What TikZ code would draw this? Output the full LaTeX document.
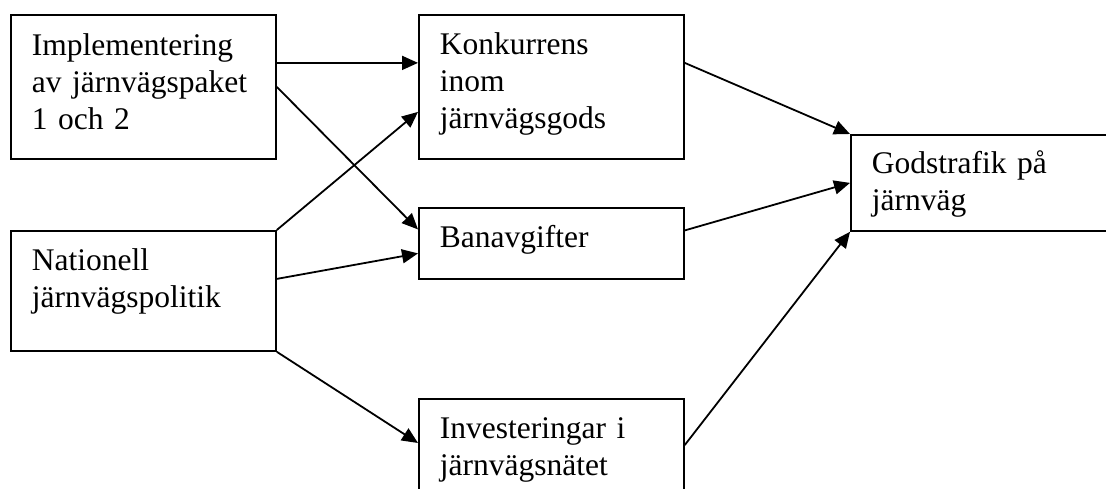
\documentclass[tikz,border=0pt]{standalone}
\usepackage{fontspec}
\setmainfont{Liberation Serif}
\usepackage{tikz}
\usetikzlibrary{calc,arrows.meta}

\begin{document}
\begin{tikzpicture}[x=1pt, y=-1pt, >={Triangle[length=16pt,width=14pt]}]
\tikzset{factorbox/.style={draw,line width=1.8pt,anchor=north west,
  minimum width=265pt,text width=223pt,inner xsep=21pt,inner ysep=0pt,
  align=left,font=\fontsize{31.5}{37}\selectfont},
effect/.style={->,line width=1.8pt}}

\useasboundingbox (0,0) rectangle (1106,489);
\clip (0,0) rectangle (1106,489);

\node (impl) [factorbox,text height=41pt,text depth=103pt] at (10,14) {Implementering\\av järnvägspaket\\1 och 2};
\node (nat) [factorbox,text height=40pt,text depth=80pt] at (10,230) {Nationell\\järnvägspolitik};
\node (konk) [factorbox,text height=40pt,text depth=104pt] at (418,14) {Konkurrens\\inom\\järnvägsgods};
\node (banav) [factorbox,text height=40pt,text depth=31pt] at (418,207) {Banavgifter};
\node (inv) [factorbox,text height=40pt,text depth=80pt] at (418,398) {Investeringar i\\järnvägsnätet};
\node (gods) [factorbox,text height=39pt,text depth=57pt] at (850,134) {Godstrafik på\\järnväg};

%% Edges
\draw [effect] ([yshift=24pt]impl.east) -- ([yshift=24pt]konk.west);
\draw [effect] (impl.east) -- ([yshift=14pt]banav.west);
\draw [effect] (nat.north east) -- ([yshift=-25pt]konk.west);
\draw [effect] ([yshift=12pt]nat.east) -- ([yshift=-10pt]banav.west);
\draw [effect] (nat.south east) -- ([yshift=-45pt]inv.north west);
\draw [effect] ([yshift=24pt]konk.east) -- (gods.north west);
\draw [effect] ([yshift=13pt]banav.east) -- (gods.west);
\draw [effect] ([yshift=-47pt]inv.north east) -- (gods.south west);

\end{tikzpicture}
\end{document}
